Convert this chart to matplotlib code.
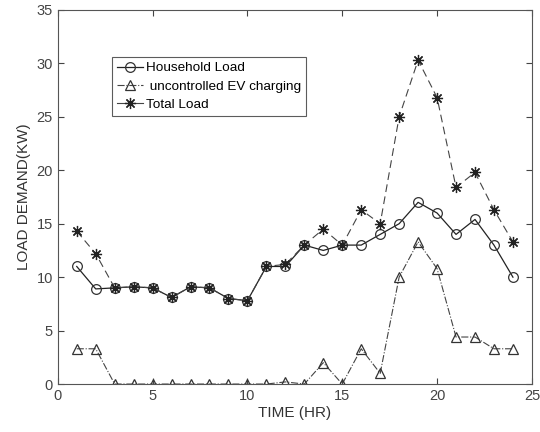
import numpy as np
import matplotlib.pyplot as plt

plt.rcParams['font.family'] = ['Liberation Sans', 'DejaVu Sans']

hours = np.arange(1, 25)
household = [11, 8.9, 9, 9.1, 9, 8.1, 9.1, 9, 8, 7.8, 11, 11,
             13, 12.5, 13, 13, 14, 15, 17, 16, 14, 15.4, 13, 10]
ev_charging = [3.3, 3.3, 0, 0, 0, 0, 0, 0, 0, 0, 0, 0.2,
               0, 2, 0, 3.3, 1, 10, 13.3, 10.8, 4.4, 4.4, 3.3, 3.3]
total = np.array(household) + np.array(ev_charging)

fig = plt.figure(figsize=(5.4, 4.32), dpi=100)
ax = fig.add_axes([0.107, 0.111, 0.878, 0.866])

ax.plot(hours, household, '-', color='#222222', lw=0.9, marker='o', ms=7,
        mfc='none', mec='#333333', mew=0.9, label='Household Load')
ax.plot(hours, ev_charging, '-.', color='#444444', lw=0.8, marker='^', ms=7,
        mfc='none', mec='#333333', mew=0.9, label=' uncontrolled EV charging')
ax.plot(hours, total, color='#444444', lw=0.8, dashes=(7, 4), marker=(8, 2, 0), ms=8,
        mec='#222222', mew=0.9, label='Total Load')

ax.set_xlim(0, 25)
ax.set_ylim(0, 35)
ax.set_xticks(range(0, 26, 5))
ax.set_yticks(range(0, 36, 5))
ax.tick_params(direction='in', top=True, right=True, labelsize=10.5, colors='#444444', length=4)
for s in ax.spines.values():
    s.set_color('#555555')
    s.set_linewidth(0.8)

ax.set_xlabel('TIME (HR)', fontsize=11, color='#333333', labelpad=2)
ax.set_ylabel('LOAD DEMAND(KW)', fontsize=11, color='#333333', labelpad=4)

leg = ax.legend(loc='upper left', bbox_to_anchor=(0.114, 0.874), fontsize=9.7,
                frameon=True, fancybox=False, borderpad=0.35, labelspacing=0.45,
                handlelength=2.0, handletextpad=0.2, borderaxespad=0)
leg.get_frame().set_edgecolor('#333333')
leg.get_frame().set_linewidth(0.8)
# short legend stub: draw the total-load handle as a plain line
leg.get_lines()[2].set_linestyle('-')

fig.savefig('out.png', dpi=100)
